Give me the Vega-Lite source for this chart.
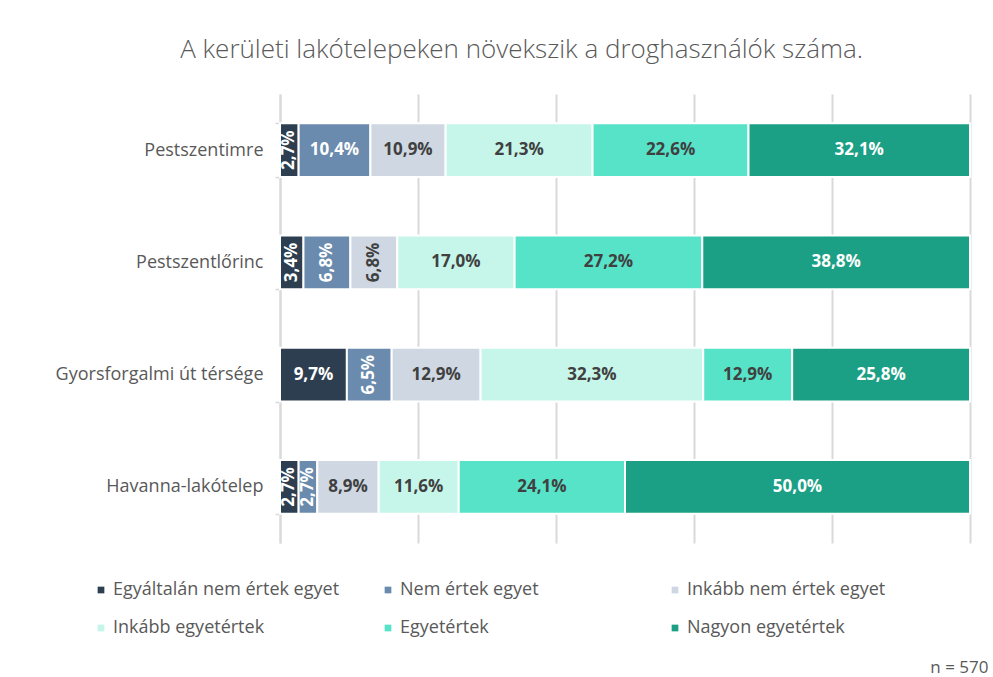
{
  "$schema": "https://vega.github.io/schema/vega-lite/v6.json",
  "autosize": "none",
  "width": 690,
  "height": 449,
  "padding": {"left": 280, "top": 94, "right": 23, "bottom": 134},
  "background": "white",
  "title": {
    "text": "A kerületi lakótelepeken növekszik a droghasználók száma.",
    "fontSize": 26,
    "fontWeight": 300,
    "color": "#595959",
    "anchor": "middle",
    "frame": "bounds",
    "offset": 22
  },
  "datasets": {
    "answers": [
      {"site": "Pestszentimre", "resp": "Egyáltalán nem értek egyet", "v": 0.027},
      {"site": "Pestszentimre", "resp": "Nem értek egyet", "v": 0.104},
      {"site": "Pestszentimre", "resp": "Inkább nem értek egyet", "v": 0.109},
      {"site": "Pestszentimre", "resp": "Inkább egyetértek", "v": 0.213},
      {"site": "Pestszentimre", "resp": "Egyetértek", "v": 0.226},
      {"site": "Pestszentimre", "resp": "Nagyon egyetértek", "v": 0.321},
      {"site": "Pestszentlőrinc", "resp": "Egyáltalán nem értek egyet", "v": 0.034},
      {"site": "Pestszentlőrinc", "resp": "Nem értek egyet", "v": 0.068},
      {"site": "Pestszentlőrinc", "resp": "Inkább nem értek egyet", "v": 0.068},
      {"site": "Pestszentlőrinc", "resp": "Inkább egyetértek", "v": 0.170},
      {"site": "Pestszentlőrinc", "resp": "Egyetértek", "v": 0.272},
      {"site": "Pestszentlőrinc", "resp": "Nagyon egyetértek", "v": 0.388},
      {"site": "Gyorsforgalmi út térsége", "resp": "Egyáltalán nem értek egyet", "v": 0.097},
      {"site": "Gyorsforgalmi út térsége", "resp": "Nem értek egyet", "v": 0.065},
      {"site": "Gyorsforgalmi út térsége", "resp": "Inkább nem értek egyet", "v": 0.129},
      {"site": "Gyorsforgalmi út térsége", "resp": "Inkább egyetértek", "v": 0.323},
      {"site": "Gyorsforgalmi út térsége", "resp": "Egyetértek", "v": 0.129},
      {"site": "Gyorsforgalmi út térsége", "resp": "Nagyon egyetértek", "v": 0.258},
      {"site": "Havanna-lakótelep", "resp": "Egyáltalán nem értek egyet", "v": 0.027},
      {"site": "Havanna-lakótelep", "resp": "Nem értek egyet", "v": 0.027},
      {"site": "Havanna-lakótelep", "resp": "Inkább nem értek egyet", "v": 0.089},
      {"site": "Havanna-lakótelep", "resp": "Inkább egyetértek", "v": 0.116},
      {"site": "Havanna-lakótelep", "resp": "Egyetértek", "v": 0.241},
      {"site": "Havanna-lakótelep", "resp": "Nagyon egyetértek", "v": 0.500}
    ],
    "scaleOrder": [
      {"resp": "Egyáltalán nem értek egyet", "rank": 1},
      {"resp": "Nem értek egyet", "rank": 2},
      {"resp": "Inkább nem értek egyet", "rank": 3},
      {"resp": "Inkább egyetértek", "rank": 4},
      {"resp": "Egyetértek", "rank": 5},
      {"resp": "Nagyon egyetértek", "rank": 6}
    ]
  },
  "data": {"name": "answers"},
  "transform": [
    {"lookup": "resp", "from": {"data": {"name": "scaleOrder"}, "key": "resp", "fields": ["rank"]}},
    {"stack": "v", "groupby": ["site"], "sort": [{"field": "rank", "order": "ascending"}], "offset": "normalize", "as": ["x0", "x1"]}
  ],
  "encoding": {
    "y": {
      "field": "site",
      "type": "nominal",
      "sort": ["Pestszentimre", "Pestszentlőrinc", "Gyorsforgalmi út térsége", "Havanna-lakótelep"],
      "scale": {"paddingInner": 0.52, "paddingOuter": 0.26},
      "axis": {
        "title": null,
        "tickBand": "extent",
        "domainColor": "#d9d9d9",
        "domainWidth": 2,
        "tickColor": "#d9d9d9",
        "tickWidth": 1.5,
        "tickSize": 5,
        "labelFontSize": 18,
        "labelColor": "#595959",
        "labelPadding": 12,
        "labelLimit": 400,
        "grid": false
      }
    }
  },
  "resolve": {"axis": {"x": "shared"}},
  "layer": [
    {
      "mark": {"type": "bar", "stroke": "white", "strokeWidth": 2},
      "encoding": {
        "x": {
          "field": "x0",
          "type": "quantitative",
          "title": "n = 570",
          "scale": {"domain": [0, 1], "nice": false},
          "axis": {
            "values": [0, 0.2, 0.4, 0.6, 0.8, 1],
            "grid": true,
            "gridColor": "#d9d9d9",
            "gridWidth": 2,
            "labels": false,
            "ticks": false,
            "domain": false,
            "titleFontSize": 17,
            "titleFontWeight": "normal",
            "titleColor": "#595959",
            "titleAlign": "right",
            "titleBaseline": "alphabetic",
            "titleX": 708,
            "titleY": 129
          }
        },
        "x2": {"field": "x1"},
        "color": {
          "field": "resp",
          "type": "nominal",
          "scale": {
            "domain": ["Egyáltalán nem értek egyet", "Nem értek egyet", "Inkább nem értek egyet", "Inkább egyetértek", "Egyetértek", "Nagyon egyetértek"],
            "range": ["#2c3e50", "#6a8bad", "#cfd8e2", "#c6f5ea", "#56e3c8", "#1ba085"]
          },
          "legend": {
            "title": null,
            "orient": "none",
            "direction": "horizontal",
            "legendX": -188,
            "legendY": 487,
            "columns": 3,
            "gridAlign": "all",
            "columnPadding": 39,
            "rowPadding": 20,
            "symbolType": "square",
            "symbolSize": 45,
            "symbolStrokeWidth": 0,
            "labelFontSize": 18,
            "labelColor": "#595959",
            "labelOffset": 3,
            "labelLimit": 400,
            "padding": 0
          }
        }
      }
    },
    {
      "transform": [
        {"filter": "datum.v >= 0.075"},
        {"fold": ["x0", "x1"], "as": ["edge", "pos"]},
        {"aggregate": [{"op": "mean", "field": "pos", "as": "mid"}], "groupby": ["site", "resp", "v"]}
      ],
      "mark": {"type": "text", "fontSize": 17, "fontWeight": "bold", "align": "center", "baseline": "middle"},
      "encoding": {
        "x": {"field": "mid", "type": "quantitative", "title": "n = 570"},
        "text": {"field": "v", "type": "quantitative", "format": ".1%"},
        "color": {
          "condition": {"test": "datum.resp === 'Egyáltalán nem értek egyet' || datum.resp === 'Nem értek egyet' || datum.resp === 'Nagyon egyetértek'", "value": "white"},
          "value": "#404040"
        }
      }
    },
    {
      "transform": [
        {"filter": "datum.v < 0.075"},
        {"fold": ["x0", "x1"], "as": ["edge", "pos"]},
        {"aggregate": [{"op": "mean", "field": "pos", "as": "mid"}], "groupby": ["site", "resp", "v"]}
      ],
      "mark": {"type": "text", "fontSize": 17, "fontWeight": "bold", "align": "center", "baseline": "middle", "angle": 270},
      "encoding": {
        "x": {"field": "mid", "type": "quantitative", "title": "n = 570"},
        "text": {"field": "v", "type": "quantitative", "format": ".1%"},
        "color": {
          "condition": {"test": "datum.resp === 'Egyáltalán nem értek egyet' || datum.resp === 'Nem értek egyet' || datum.resp === 'Nagyon egyetértek'", "value": "white"},
          "value": "#404040"
        }
      }
    }
  ],
  "config": {
    "font": "Open Sans",
    "view": {"stroke": null},
    "locale": {"number": {"decimal": ",", "thousands": " ", "grouping": [3], "currency": ["", " Ft"]}}
  }
}
